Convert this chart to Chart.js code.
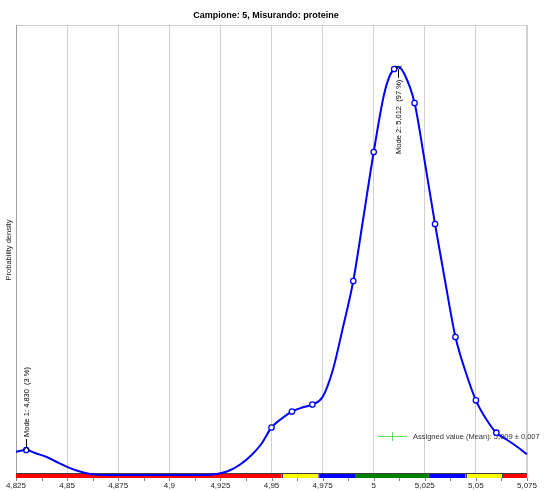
<!DOCTYPE html>
<html>
<head>
<meta charset="utf-8">
<script src="https://cdn.jsdelivr.net/npm/chart.js@4/dist/chart.umd.min.js"></script>
<style>
html,body{margin:0;padding:0;background:#fff;}
#wrap{width:548px;height:491px;position:relative;}
</style>
</head>
<body>
<div id="wrap"><canvas id="c" width="548" height="491"></canvas></div>
<script>
// ---- data ----
const chartTitle = "Campione: 5, Misurando: proteine";
const yAxisTitle = "Probability density";
const tickValues = [4.825, 4.85, 4.875, 4.9, 4.925, 4.95, 4.975, 5, 5.025, 5.05, 5.075];
const tickLabels = ["4,825", "4,85", "4,875", "4,9", "4,925", "4,95", "4,975", "5", "5,025", "5,05", "5,075"];

// density curve (arbitrary units)
const curveX = [4.825, 4.830, 4.835, 4.840, 4.845, 4.850, 4.855, 4.860, 4.865, 4.870, 4.880, 4.890, 4.900, 4.910, 4.915, 4.920,
  4.925, 4.930, 4.935, 4.940, 4.945, 4.950, 4.955, 4.960, 4.965, 4.970, 4.975, 4.980, 4.985, 4.990, 4.995, 5.000,
  5.005, 5.008, 5.010, 5.012, 5.015, 5.020, 5.025, 5.030, 5.035, 5.040, 5.045, 5.050, 5.055, 5.060, 5.065, 5.070, 5.075];
const curveY = [2.33, 2.50, 2.15, 1.80, 1.30, 0.82, 0.42, 0.15, 0.03, 0, 0, 0, 0, 0, 0.01, 0.03,
  0.18, 0.50, 1.10, 1.95, 3.10, 4.75, 5.65, 6.35, 6.75, 7.05, 7.80, 10.5, 14.8, 19.4, 25.8, 32.3,
  38.0, 40.0, 40.6, 40.83, 40.1, 37.2, 31.3, 25.1, 19.3, 13.8, 10.3, 7.47, 5.60, 4.23, 3.55, 2.85, 2.07];

// marked points on the curve
const markX = [4.830, 4.95, 4.96, 4.97, 4.99, 5.00, 5.01, 5.02, 5.03, 5.04, 5.05, 5.06];
const markY = [2.50, 4.75, 6.35, 7.05, 19.4, 32.3, 40.6, 37.2, 25.1, 13.8, 7.47, 4.23];

// modes
const modeX = [4.830, 5.012];
const modeY = [2.50, 40.83];
const modeLabels = ["Mode 1: 4,830  (3 %)", "Mode 2: 5,012  (97 %)"];
const modeSide = ["above", "below"];

// assigned value and tolerance bands
const assignedLabel = "Assigned value (Mean): 5,009 ± 0,007";
const bandEdges = [4.825, 4.955, 4.973, 4.991, 5.027, 5.045, 5.063, 5.075];
const bandColors = ["#ff0000", "#ffff00", "#0000ff", "#008000", "#0000ff", "#ffff00", "#ff0000"];

const FONT = '"Liberation Sans", Arial, sans-serif';

const deco = {
  id: 'deco',
  beforeDatasetsDraw(chart) {
    const ctx = chart.ctx, a = chart.chartArea, xs = chart.scales.x;
    ctx.save();
    // frame
    ctx.lineWidth = 1;
    ctx.strokeStyle = '#d0d0d0';
    ctx.beginPath();
    ctx.moveTo(a.left, a.top + 0.5); ctx.lineTo(a.right, a.top + 0.5);
    ctx.moveTo(a.right - 0.5, a.top); ctx.lineTo(a.right - 0.5, a.bottom);
    ctx.stroke();
    ctx.strokeStyle = '#a0a0a0';
    ctx.beginPath();
    ctx.moveTo(a.left + 0.5, a.top); ctx.lineTo(a.left + 0.5, a.bottom);
    ctx.stroke();
    // title
    ctx.fillStyle = '#000';
    ctx.font = 'bold 9px ' + FONT;
    ctx.textAlign = 'center'; ctx.textBaseline = 'middle';
    ctx.fillText(chartTitle, 266, 16);
    // y title
    ctx.save();
    ctx.translate(9, (a.top + a.bottom) / 2);
    ctx.rotate(-Math.PI / 2);
    ctx.font = '7.5px ' + FONT;
    ctx.fillStyle = '#222';
    ctx.fillText(yAxisTitle, 0, 0);
    ctx.restore();
    // legend
    const ly = 436;
    ctx.strokeStyle = '#66dd66'; ctx.lineWidth = 1;
    ctx.beginPath();
    ctx.moveTo(378, ly + 0.5); ctx.lineTo(407, ly + 0.5);
    ctx.moveTo(392.5, ly - 4); ctx.lineTo(392.5, ly + 5);
    ctx.stroke();
    ctx.font = '7.5px ' + FONT;
    ctx.fillStyle = '#333';
    ctx.textAlign = 'left';
    ctx.fillText(assignedLabel, 413, ly + 0.5);
    // tolerance color bar
    const by = a.bottom - 1;
    for (let i = 0; i < bandColors.length; i++) {
      const x0 = xs.getPixelForValue(bandEdges[i]);
      const x1 = xs.getPixelForValue(bandEdges[i + 1]);
      ctx.fillStyle = bandColors[i];
      ctx.fillRect(x0, by, x1 - x0, 4);
    }
    ctx.fillStyle = '#404040';
    ctx.fillRect(a.left, by - 1, a.right - a.left, 1);
    for (let i = 1; i < bandColors.length; i++) {
      const x = Math.round(xs.getPixelForValue(bandEdges[i]));
      ctx.fillRect(x, by, 1, 4);
    }
    // tick marks (major + midpoints)
    ctx.strokeStyle = '#808080'; ctx.lineWidth = 1;
    ctx.beginPath();
    for (let i = 0; i < tickValues.length; i++) {
      const px = Math.round(xs.getPixelForValue(tickValues[i])) + 0.5;
      ctx.moveTo(px, by + 4); ctx.lineTo(px, by + 7);
      if (i < tickValues.length - 1) {
        const pm = Math.round(xs.getPixelForValue((tickValues[i] + tickValues[i + 1]) / 2)) + 0.5;
        ctx.moveTo(pm, by + 4); ctx.lineTo(pm, by + 7);
      }
    }
    ctx.stroke();
    ctx.restore();
  },
  afterDatasetsDraw(chart) {
    const ctx = chart.ctx, xs = chart.scales.x, ys = chart.scales.y;
    ctx.save();
    ctx.font = '7.5px ' + FONT;
    ctx.fillStyle = '#000';
    ctx.strokeStyle = '#000';
    ctx.lineWidth = 1;
    for (let i = 0; i < modeX.length; i++) {
      const px = Math.round(xs.getPixelForValue(modeX[i])) + 0.5;
      const py = ys.getPixelForValue(modeY[i]);
      const dir = modeSide[i] === 'above' ? -1 : 1;
      const tip = py + dir * 3;
      const tail = py + dir * 11;
      ctx.beginPath();
      ctx.moveTo(px, tip); ctx.lineTo(px, tail);
      ctx.moveTo(px - 3, tip - dir * 4); ctx.lineTo(px, tip); ctx.lineTo(px + 3, tip - dir * 4);
      ctx.stroke();
      ctx.save();
      ctx.translate(px, tail + dir * 2);
      ctx.rotate(-Math.PI / 2);
      ctx.textBaseline = 'middle';
      ctx.textAlign = dir < 0 ? 'left' : 'right';
      ctx.fillText(modeLabels[i], 0, 0);
      ctx.restore();
    }
    ctx.restore();
  }
};

new Chart(document.getElementById('c'), {
  type: 'line',
  data: {
    datasets: [
      {
        label: 'density',
        data: curveX.map((x, i) => ({x: x, y: curveY[i]})),
        borderColor: '#0000ff',
        borderWidth: 2,
        pointRadius: 0,
        cubicInterpolationMode: 'monotone',
        fill: false,
        clip: 4,
        order: 2
      },
      {
        label: 'points',
        data: markX.map((x, i) => ({x: x, y: markY[i]})),
        showLine: false,
        pointRadius: 2.7,
        pointBorderWidth: 1.3,
        pointBorderColor: '#0000ff',
        pointBackgroundColor: '#ffffff',
        clip: false,
        order: 1
      }
    ]
  },
  options: {
    responsive: false,
    animation: false,
    devicePixelRatio: 1,
    layout: {padding: {left: 16, right: 21, top: 25, bottom: 0}},
    plugins: {legend: {display: false}, title: {display: false}, tooltip: {enabled: false}},
    scales: {
      x: {
        type: 'linear',
        min: 4.825, max: 5.075,
        afterBuildTicks: (s) => { s.ticks = tickValues.map(v => ({value: v})); },
        afterFit: (s) => { s.height = 16; s.paddingLeft = 0; s.paddingRight = 0; },
        grid: {color: '#d0d0d0', drawTicks: false},
        border: {display: false},
        ticks: {
          autoSkip: false, maxRotation: 0, padding: 6,
          color: '#222', font: {size: 8, family: FONT},
          callback: (v, i) => tickLabels[i]
        }
      },
      y: {display: false, min: 0, max: 45}
    }
  },
  plugins: [deco]
});
</script>
</body>
</html>
